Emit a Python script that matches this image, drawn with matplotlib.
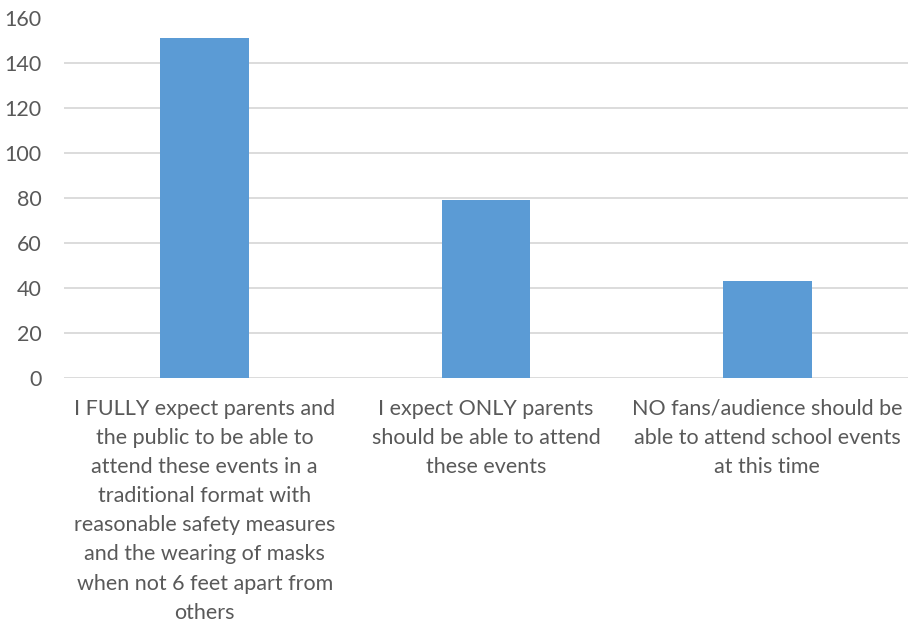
import matplotlib
matplotlib.use("Agg")
import matplotlib.pyplot as plt

categories = [
    "I FULLY expect parents and\nthe public to be able to\nattend these events in a\ntraditional format with\nreasonable safety measures\nand the wearing of masks\nwhen not 6 feet apart from\nothers",
    "I expect ONLY parents\nshould be able to attend\nthese events",
    "NO fans/audience should be\nable to attend school events\nat this time",
]
values = [151, 79, 43]
yticks = [0, 20, 40, 60, 80, 100, 120, 140, 160]

plt.rcParams['font.family'] = ['Lato', 'DejaVu Sans']
fig = plt.figure(figsize=(9.11, 6.24), dpi=100)
ax = fig.add_axes([64/911, (624-378)/624, (908-64)/911, (378-17.5)/624])

x = list(range(len(categories)))
ax.bar(x, values, width=0.315, color='#5b9bd5', zorder=3)
ax.set_xlim(-0.5, 2.5)
ax.set_ylim(0, 160)
ax.set_yticks(yticks)
ax.set_yticklabels([str(t) for t in yticks], fontsize=15.5, color='#595959')
ax.set_xticks(x)
ax.set_xticklabels(categories, fontsize=15.5, color='#595959', linespacing=1.57)
ax.tick_params(axis='both', length=0)
ax.tick_params(axis='x', pad=15)
ax.tick_params(axis='y', pad=16)
ax.grid(axis='y', color='#d9d9d9', linewidth=1.3, zorder=0)
for s in ax.spines.values():
    s.set_visible(False)

fig.savefig("out.png", dpi=100)
